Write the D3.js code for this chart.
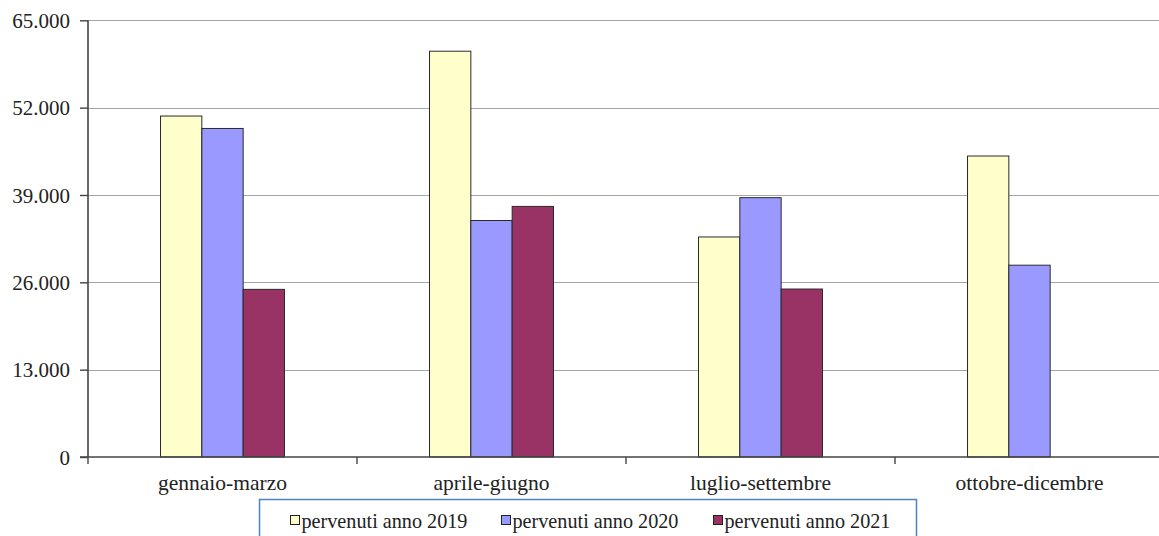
<!DOCTYPE html>
<html><head><meta charset="utf-8">
<script src="https://cdn.jsdelivr.net/npm/d3@7"></script>
<style>body{margin:0;background:#fff}svg{display:block}svg text{font-family:"Liberation Serif","Times New Roman",serif}</style>
</head><body>
<svg id="c" width="1159" height="536"></svg>
<script>
const categories = ["gennaio-marzo","aprile-giugno","luglio-settembre","ottobre-dicembre"];
const seriesNames = ["pervenuti anno 2019","pervenuti anno 2020","pervenuti anno 2021"];
const values2019 = [50750, 60400, 32750, 44800];
const values2020 = [48900, 35200, 38600, 28550];
const values2021 = [24950, 37300, 25000, null];
const yTicks = [0, 13000, 26000, 39000, 52000, 65000];
const colors = ["#FFFFCC","#9999FF","#993366"];

const svg = d3.select("#c");
const pL = 88, pR = 1164, pT = 20.3, pB = 457;
const x = d3.scaleBand().domain(categories).range([pL, pR]).paddingInner(0).paddingOuter(0);
const y = d3.scaleLinear().domain([0, 65000]).range([pB, pT]);
const fmt = v => d3.format(",")(v).replace(/,/g, ".");

// gridlines
svg.append("g").selectAll("line").data(yTicks.filter(d => d > 0)).join("line")
  .attr("x1", pL).attr("x2", pR)
  .attr("y1", d => Math.round(y(d)) + 0.5).attr("y2", d => Math.round(y(d)) + 0.5)
  .attr("stroke", "#a6a6a6").attr("stroke-width", 1.2);

// bars
const series = [values2019, values2020, values2021];
const inner = d3.scaleBand().domain([0,1,2]).range([0, x.bandwidth()]).paddingInner(0).paddingOuter(1.755);
const barData = [];
categories.forEach((c, i) => series.forEach((s, j) => { if (s[i] != null) barData.push({c, j, v: s[i]}); }));
svg.append("g").selectAll("rect").data(barData).join("rect")
  .attr("x", d => x(d.c) + inner(d.j))
  .attr("width", inner.bandwidth())
  .attr("y", d => y(d.v))
  .attr("height", d => y(0) - y(d.v))
  .attr("fill", d => colors[d.j])
  .attr("stroke", "#2a2a2a").attr("stroke-width", 1);

// y axis
const yAxis = d3.axisLeft(y).tickValues(yTicks).tickFormat(fmt).tickSize(8).tickPadding(10);
const ya = svg.append("g").attr("transform", `translate(${pL},0)`).call(yAxis);
ya.attr("font-family", null).attr("font-size", null);
ya.select(".domain").attr("stroke", "#444").attr("stroke-width", 1.6).attr("d", `M0,${pB}V${pT}`);
ya.selectAll(".tick line").attr("stroke", "#444").attr("stroke-width", 1.4);
ya.selectAll("text").style("font-size", "21px").attr("fill", "#222").attr("dy", "0.34em");

// x axis
const xa = svg.append("g").attr("transform", `translate(0,${pB})`);
xa.append("line").attr("x1", pL - 8).attr("x2", pR).attr("y1", 0).attr("y2", 0)
  .attr("stroke", "#444").attr("stroke-width", 1.6);
const bounds = categories.map(c => x(c)).concat([pR]);
xa.selectAll("line.tk").data(bounds).join("line").attr("class", "tk")
  .attr("x1", d => d).attr("x2", d => d).attr("y1", 0).attr("y2", 7)
  .attr("stroke", "#444").attr("stroke-width", 1.4);
xa.selectAll("text").data(categories).join("text")
  .attr("x", d => x(d) + x.bandwidth() / 2).attr("y", 33)
  .attr("text-anchor", "middle").style("font-size", "21.5px").attr("fill", "#222")
  .text(d => d);

// legend
const lg = svg.append("g");
lg.append("rect").attr("x", 259.5).attr("y", 499.5).attr("width", 657).attr("height", 60)
  .attr("fill", "#fff").attr("stroke", "#4f81bd").attr("stroke-width", 1.5);
const lx = [290, 501, 713];
const items = lg.selectAll("g.it").data(seriesNames).join("g").attr("class", "it")
  .attr("transform", (d, i) => `translate(${lx[i]},0)`);
items.append("rect").attr("x", 0.5).attr("y", 515.5).attr("width", 9).attr("height", 9)
  .attr("fill", (d, i) => colors[i]).attr("stroke", "#222").attr("stroke-width", 1);
items.append("text").attr("x", 11.5).attr("y", 528)
  .style("font-size", "20.2px").attr("fill", "#222").text(d => d);
</script>
</body></html>
